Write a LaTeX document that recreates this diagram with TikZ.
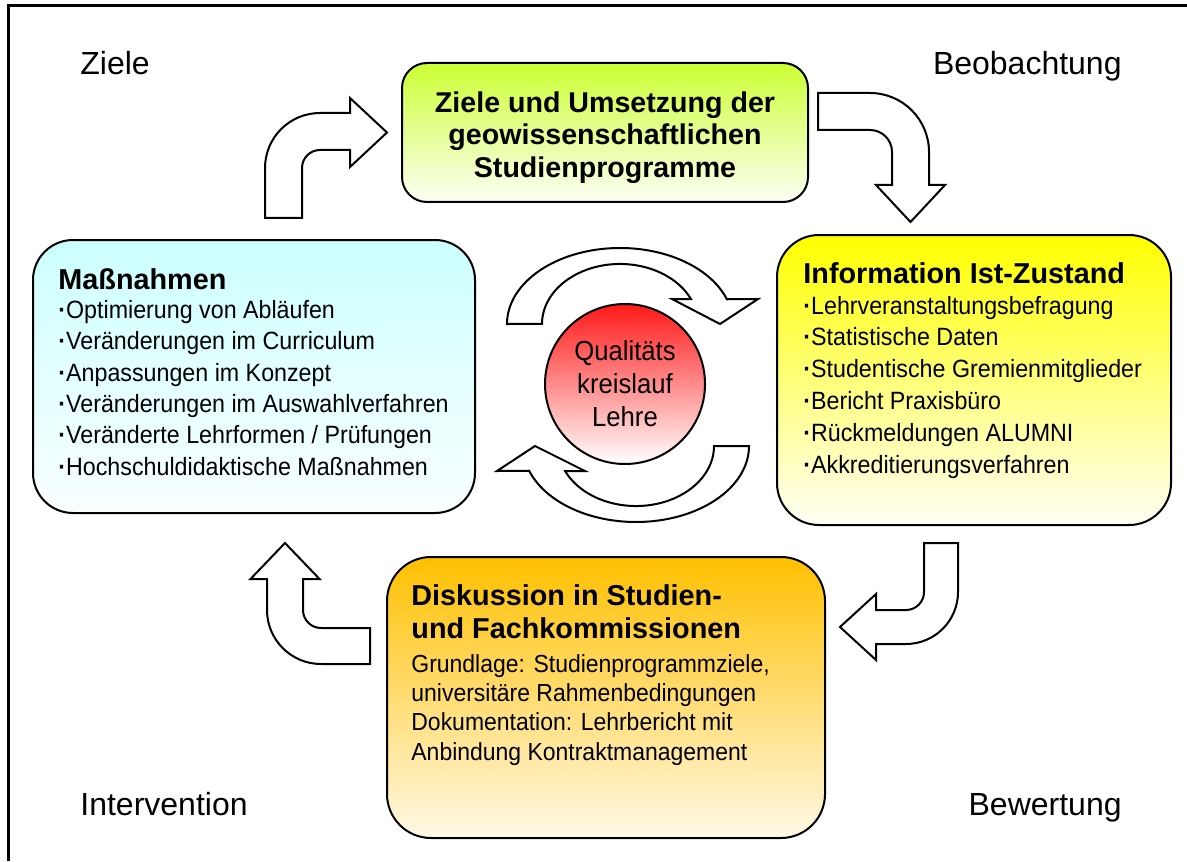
\documentclass[tikz,border=0pt]{standalone}
\usepackage{fontspec}
\setmainfont{Liberation Sans}
\newfontfamily\schmal{Liberation Sans}[FakeStretch=0.93]
\usepackage{tikz}
\usetikzlibrary{positioning, shapes.geometric}

\definecolor{zielgruen}{RGB}{204,255,51}
\definecolor{infogelb}{RGB}{255,255,0}
\definecolor{massncyan}{RGB}{204,255,255}
\definecolor{diskorange}{RGB}{255,192,0}
\definecolor{kreisrot}{RGB}{255,25,25}

\newcommand{\pkt}{\textbf{·}}

\begin{document}
\begin{tikzpicture}[
    x=0.5pt, y=-0.5pt,
    kasten/.style={draw, rectangle, line width=1pt, inner sep=0pt},
    kreis/.style={draw, circle, line width=1pt, minimum size=80pt, inner sep=0pt,
      align=center, font=\schmal\fontsize{13.8}{16.5}\selectfont},
    liste/.style={anchor=north west, inner sep=0pt, align=left},
    kopf/.style={font=\bfseries\fontsize{14.4}{16}\selectfont},
    pfeil/.style={draw, fill=white, line width=1pt, line join=miter},
    ecke/.style={inner sep=0pt, font=\fontsize{16}{19}\selectfont}
]
\useasboundingbox (0,0) rectangle (1187,861);
\draw[line width=1.5pt] (8,861) -- (8,6) -- (1187,6);

% vier Kaesten
\node (ziele) [kasten, rounded corners=12.5pt, minimum width=203pt, minimum height=69.5pt,
  top color=zielgruen, bottom color=zielgruen!5!white] at (605,132.5) {};
\node (info) [kasten, rounded corners=21pt, minimum width=197pt, minimum height=145pt,
  top color=infogelb, bottom color=infogelb!4!white] at (974,380) {};
\node (massn) [kasten, rounded corners=20pt, minimum width=221pt, minimum height=136.5pt,
  top color=massncyan, bottom color=massncyan!10!white] at (254,376.5) {};
\node (disk) [kasten, rounded corners=22pt, minimum width=219pt, minimum height=140.5pt,
  top color=diskorange, bottom color=diskorange!10!white] at (606,697.5) {};

\node (zieletext) [align=center, inner sep=0pt, font=\bfseries\fontsize{14.3}{16.1}\selectfont]
  at (605,137.5) {Ziele und Umsetzung der\\geowissenschaftlichen\\Studienprogramme};
\node (massntext) [liste, font=\schmal\fontsize{12.5}{15.7}\selectfont] at (58,268)
  {{\rmfamily\bfseries\fontsize{14.4}{15.7}\selectfont Maßnahmen}\\[-1.2pt]
   \pkt Optimierung von Abläufen\\
   \pkt Veränderungen im Curriculum\\
   \pkt Anpassungen im Konzept\\
   \pkt Veränderungen im Auswahlverfahren\\
   \pkt Veränderte Lehrformen / Prüfungen\\
   \pkt Hochschuldidaktische Maßnahmen};
\node (infotext) [liste, font=\schmal\fontsize{12.5}{15.9}\selectfont] at (803,262)
  {{\rmfamily\bfseries\fontsize{14.4}{15.9}\selectfont Information Ist-Zustand}\\[-0.5pt]
   \pkt Lehrveranstaltungsbefragung\\
   \pkt Statistische Daten\\
   \pkt Studentische Gremienmitglieder\\
   \pkt Bericht Praxisbüro\\
   \pkt Rückmeldungen ALUMNI\\
   \pkt Akkreditierungsverfahren};
\node (disktext) [liste, font=\schmal\fontsize{12.35}{14.65}\selectfont] at (411,584)
  {{\rmfamily\bfseries\fontsize{14.4}{14.65}\selectfont Diskussion in Studien-}\\[1.85pt]
   {\rmfamily\bfseries\fontsize{14.4}{14.65}\selectfont und Fachkommissionen}\\[2.35pt]
   Grundlage: Studienprogrammziele,\\
   universitäre Rahmenbedingungen\\
   Dokumentation: Lehrbericht mit\\
   Anbindung Kontraktmanagement};

% Ecken
\node (lziele) [ecke, anchor=base west] at (80,75) {Ziele};
\node (lbeob) [ecke, anchor=base east] at (1122,75) {Beobachtung};
\node (linterv) [ecke, anchor=base west] at (80,815) {Intervention};
\node (lbewert) [ecke, anchor=base east] at (1122,815) {Bewertung};

% Blockpfeile zwischen den Kaesten
\draw[pfeil] (265,218) -- (265,168) arc[start angle=180, end angle=270, radius=55]
  -- (350,113) -- (350,98) -- (387,132.5) -- (350,167) -- (350,150) -- (320,150)
  arc[start angle=270, end angle=180, radius=18] -- (302,218) -- cycle;
\draw[pfeil] (818,93) -- (870,93) arc[start angle=270, end angle=360, radius=59]
  -- (929,185) -- (945,185) -- (910.5,222) -- (876,185) -- (892,185) -- (892,152)
  arc[start angle=0, end angle=-90, radius=22] -- (818,130) -- cycle;
\draw[pfeil] (924,543) -- (958,543) -- (958,592) arc[start angle=0, end angle=90, radius=52]
  -- (876,644) -- (876,660) -- (840,627) -- (876,594) -- (876,610) -- (906,610)
  arc[start angle=90, end angle=0, radius=18] -- cycle;
\draw[pfeil] (370,664) -- (321,664) arc[start angle=90, end angle=180, radius=54]
  -- (267,579) -- (250.5,579) -- (285,543) -- (319.5,579) -- (303,579) -- (303,610)
  arc[start angle=180, end angle=90, radius=18] -- (370,628) -- cycle;

% Kreispfeile um die Mitte
\draw[pfeil] (507,324) arc[start angle=180, end angle=341, x radius=113, y radius=76]
  -- (758,299) -- (720,324) -- (672,299) -- (690.9,299)
  arc[start angle=335.4, end angle=180, x radius=78, y radius=60] -- cycle;
\draw[pfeil] (749,446) arc[start angle=0, end angle=161, x radius=113, y radius=76]
  -- (497,471) -- (535,446) -- (585,471) -- (565.1,471)
  arc[start angle=155.4, end angle=0, x radius=78, y radius=60] -- cycle;

\node (mitte) [kreis, top color=kreisrot, bottom color=white] at (625,384)
  {Qualitäts\\kreislauf\\Lehre};
\end{tikzpicture}
\end{document}
